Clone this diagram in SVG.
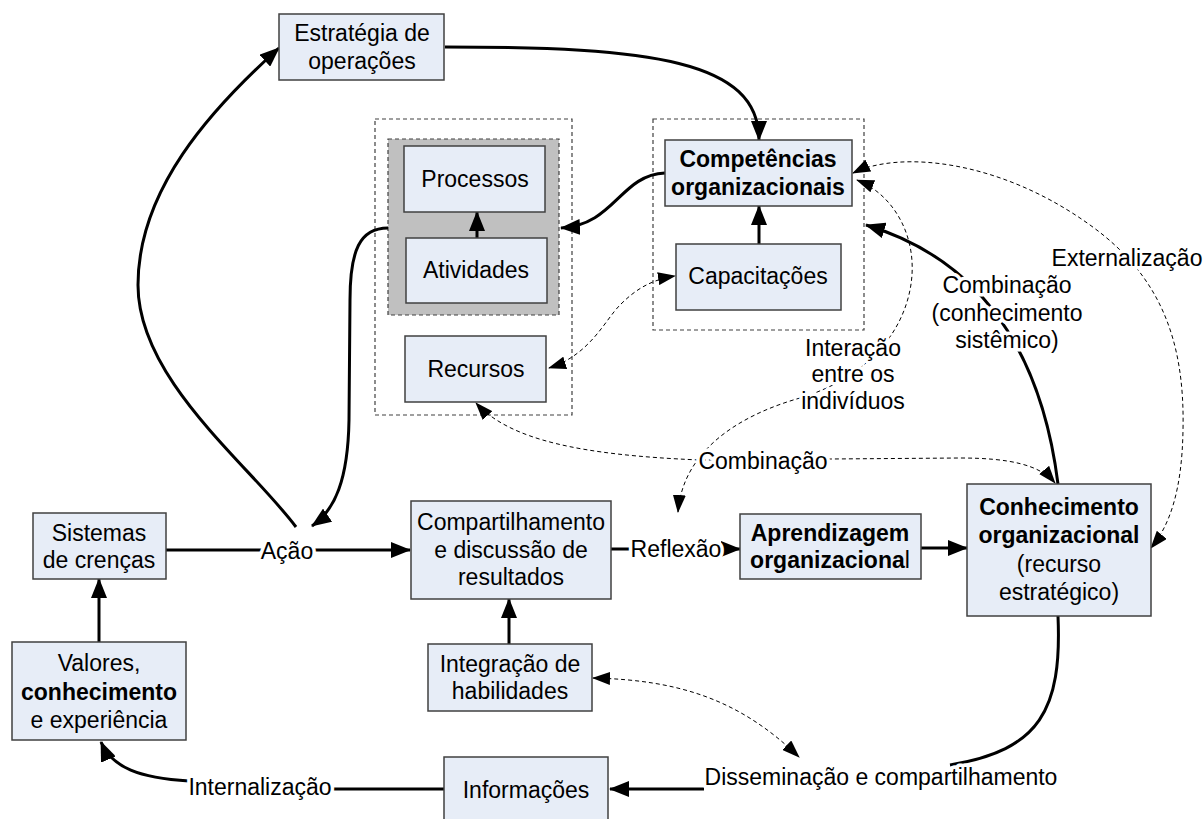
<svg xmlns="http://www.w3.org/2000/svg" width="1204" height="819" viewBox="0 0 1204 819">
<style>
.box{fill:#e7edf7;stroke:#404040;stroke-width:1.5}
.cont{fill:none;stroke:#404040;stroke-width:1.2;stroke-dasharray:4 3}
.gray{fill:#c0c0c0;stroke:#404040;stroke-width:1.2;stroke-dasharray:4 3}
.t{font-family:"Liberation Sans",Arial,sans-serif;font-size:23px;fill:#000;text-anchor:middle}
.b{font-weight:bold}
.n{font-weight:normal}
.lbl{paint-order:stroke;stroke:#fff;stroke-width:7px;stroke-linejoin:round}
.sol{fill:none;stroke:#000;stroke-width:3}
.das{fill:none;stroke:#000;stroke-width:1;stroke-dasharray:4 3}
</style>
<defs>
<marker id="ah" viewBox="0 0 20 16" refX="19" refY="8" markerWidth="20" markerHeight="16" markerUnits="userSpaceOnUse" orient="auto-start-reverse"><path d="M0,0 L20,8 L0,16 z" fill="#000"/></marker>
<marker id="ad" viewBox="0 0 18 13" refX="17" refY="6.5" markerWidth="18" markerHeight="13" markerUnits="userSpaceOnUse" orient="auto-start-reverse"><path d="M0,0 L18,6.5 L0,13 z" fill="#000"/></marker>
</defs>
<rect width="1204" height="819" fill="#fff"/>

<g id="containers">
<rect class="cont" x="375" y="119" width="197" height="296"/>
<rect class="cont" x="653" y="119" width="211" height="211"/>
<rect id="grupo-processos" class="gray" x="388" y="139" width="171" height="176"/>
</g>

<g id="connectors">
<path class="sol" d="M296,527 C250,465 138,380 138,285 C138,190 210,110 279,48" marker-end="url(#ah)"/>
<path class="sol" d="M445,47 C650,47 759,60 759,140" marker-end="url(#ah)"/>
<path class="sol" d="M665,173 C620,175 615,225 561,228" marker-end="url(#ah)"/>
<path class="sol" d="M388,228 C360,228 350,250 350,300 L349,420 C348,480 335,510 312,526" marker-end="url(#ah)"/>
<path class="sol" d="M477,238 L477,212" marker-end="url(#ah)"/>
<path class="sol" d="M759,244 L759,206" marker-end="url(#ah)"/>
<path class="das" d="M549,368 C590,355 605,320 620,305 C635,290 650,280 675,276" marker-start="url(#ad)" marker-end="url(#ad)"/>
<path class="sol" d="M1058,484 C1045,380 1000,265 866,225" marker-end="url(#ah)"/>
<path class="das" d="M853,173 C900,150 1000,160 1090,225 C1160,275 1185,340 1183,430 C1182,490 1170,525 1151,548" marker-start="url(#ad)" marker-end="url(#ad)"/>
<path class="das" d="M857,180 C895,195 920,240 910,290 C900,340 860,380 800,398 C740,415 683,450 678,512" marker-start="url(#ad)" marker-end="url(#ad)"/>
<path class="das" d="M476,403 C510,440 580,455 700,460 L960,458 C1010,458 1040,465 1055,483" marker-start="url(#ad)" marker-end="url(#ad)"/>
<path class="sol" d="M166,550 L410,550" marker-end="url(#ah)"/>
<path class="sol" d="M611,549 L740,549" marker-end="url(#ah)"/>
<path class="sol" d="M921,548 L967,548" marker-end="url(#ah)"/>
<path class="sol" d="M99,642 L99,579" marker-end="url(#ah)"/>
<path class="sol" d="M509,644 L509,599" marker-end="url(#ah)"/>
<path class="sol" d="M1058,616 C1062,710 1040,750 950,765 M704,789 L610,789" marker-end="url(#ah)"/>
<path class="sol" d="M444,789 L332,789 M189,781 C140,778 112,768 101,742" marker-end="url(#ah)"/>
<path class="das" d="M593,678 C680,680 740,700 799,757" marker-start="url(#ad)" marker-end="url(#ad)"/>
<text class="t lbl" x="287" y="559">Ação</text>
<text class="t lbl" x="676" y="557">Reflexão</text>
<text class="t lbl" x="260" y="795">Internalização</text>
<text class="t lbl" x="881" y="785">Disseminação e compartilhamento</text>
<text class="t lbl" x="763" y="469">Combinação</text>
<text class="t lbl" x="1007" y="293">Combinação</text>
<text class="t lbl" x="1007" y="321">(conhecimento</text>
<text class="t lbl" x="1007" y="348">sistêmico)</text>
<text class="t lbl" x="853" y="356">Interação</text>
<text class="t lbl" x="853" y="382">entre os</text>
<text class="t lbl" x="853" y="409">indivíduos</text>
<text class="t lbl" x="1127" y="266">Externalização</text>
</g>

<g id="estrategia">
<rect class="box" x="279" y="14" width="165" height="66"/>
<text class="t" x="362" y="41">Estratégia de</text>
<text class="t" x="362" y="69">operações</text>
</g>
<g id="processos">
<rect class="box" x="404" y="146" width="141" height="66"/>
<text class="t" x="475" y="187">Processos</text>
</g>
<g id="atividades">
<rect class="box" x="406" y="238" width="141" height="65"/>
<text class="t" x="476" y="278">Atividades</text>
</g>
<g id="recursos">
<rect class="box" x="405" y="336" width="141" height="66"/>
<text class="t" x="476" y="377">Recursos</text>
</g>
<g id="competencias">
<rect class="box" x="665" y="140" width="187" height="66"/>
<text class="t b" x="758" y="167">Competências</text>
<text class="t b" x="758" y="195">organizacionais</text>
</g>
<g id="capacitacoes">
<rect class="box" x="676" y="244" width="165" height="66"/>
<text class="t" x="758" y="284">Capacitações</text>
</g>
<g id="sistemas">
<rect class="box" x="33" y="513" width="133" height="66"/>
<text class="t" x="99" y="541">Sistemas</text>
<text class="t" x="99" y="568">de crenças</text>
</g>
<g id="valores">
<rect class="box" x="12" y="642" width="174" height="98"/>
<text class="t" x="99" y="671">Valores,</text>
<text class="t b" x="99" y="700">conhecimento</text>
<text class="t" x="99" y="728">e experiência</text>
</g>
<g id="compartilhamento">
<rect class="box" x="411" y="501" width="200" height="98"/>
<text class="t" x="511" y="530">Compartilhamento</text>
<text class="t" x="511" y="558">e discussão de</text>
<text class="t" x="511" y="585">resultados</text>
</g>
<g id="integracao">
<rect class="box" x="428" y="644" width="164" height="67"/>
<text class="t" x="510" y="672">Integração de</text>
<text class="t" x="510" y="699">habilidades</text>
</g>
<g id="aprendizagem">
<rect class="box" x="740" y="514" width="181" height="65"/>
<text class="t b" x="830" y="541">Aprendizagem</text>
<text class="t b" x="830" y="568">organizaciona<tspan class="n">l</tspan></text>
</g>
<g id="conhecimento">
<rect class="box" x="967" y="484" width="184" height="132"/>
<text class="t b" x="1059" y="515">Conhecimento</text>
<text class="t b" x="1059" y="543">organizacional</text>
<text class="t" x="1059" y="572">(recurso</text>
<text class="t" x="1059" y="600">estratégico)</text>
</g>
<g id="informacoes">
<rect class="box" x="444" y="757" width="164" height="70"/>
<text class="t" x="526" y="798">Informações</text>
</g>
</svg>
